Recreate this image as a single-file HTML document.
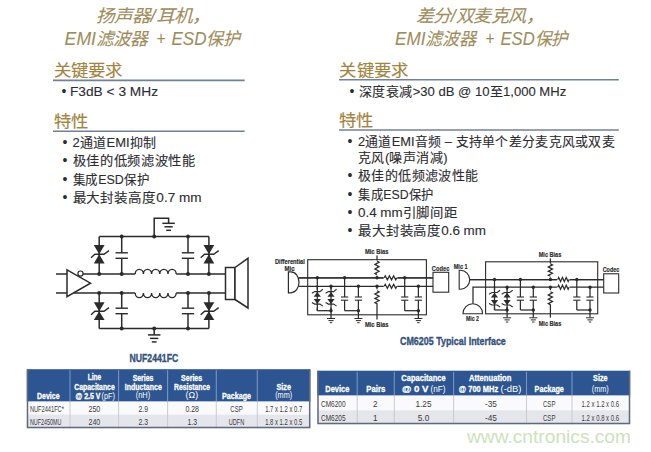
<!DOCTYPE html>
<html lang="zh-CN"><head><meta charset="utf-8"><style>
html,body{margin:0;padding:0;background:#fff;width:651px;height:452px;overflow:hidden;}
svg{position:absolute;left:0;top:0;}
</style></head><body>
<svg width="651" height="452" viewBox="0 0 651 452">
<rect width="651" height="452" fill="#fff"/>
<line x1="99.2" y1="236.4" x2="208.9" y2="236.4" stroke="#2b2b2b" stroke-width="1.5"/>
<line x1="99.2" y1="328.4" x2="208.9" y2="328.4" stroke="#2b2b2b" stroke-width="1.5"/>
<polyline points="154.2,236.4 154.2,218.3 168.6,218.3 168.6,223.3" fill="none" stroke="#2b2b2b" stroke-width="1.5" stroke-linejoin="miter"/>
<line x1="162.35" y1="223.3" x2="174.85" y2="223.3" stroke="#2b2b2b" stroke-width="1.5"/>
<line x1="164.475" y1="226.8" x2="172.725" y2="226.8" stroke="#2b2b2b" stroke-width="1.5"/>
<line x1="166.225" y1="230.3" x2="170.975" y2="230.3" stroke="#2b2b2b" stroke-width="1.5"/>
<line x1="154.2" y1="328.4" x2="154.2" y2="334.9" stroke="#2b2b2b" stroke-width="1.5"/>
<line x1="147.95" y1="334.9" x2="160.45" y2="334.9" stroke="#2b2b2b" stroke-width="1.5"/>
<line x1="150.075" y1="338.4" x2="158.325" y2="338.4" stroke="#2b2b2b" stroke-width="1.5"/>
<line x1="151.825" y1="341.9" x2="156.575" y2="341.9" stroke="#2b2b2b" stroke-width="1.5"/>
<line x1="99.2" y1="236.4" x2="99.2" y2="274" stroke="#2b2b2b" stroke-width="1.5"/>
<line x1="99.2" y1="293" x2="99.2" y2="328.4" stroke="#2b2b2b" stroke-width="1.5"/>
<line x1="208.9" y1="236.4" x2="208.9" y2="274" stroke="#2b2b2b" stroke-width="1.5"/>
<line x1="208.9" y1="293" x2="208.9" y2="328.4" stroke="#2b2b2b" stroke-width="1.5"/>
<line x1="121.7" y1="236.4" x2="121.7" y2="252.8" stroke="#2b2b2b" stroke-width="1.5"/>
<line x1="121.7" y1="258.3" x2="121.7" y2="274" stroke="#2b2b2b" stroke-width="1.5"/>
<line x1="121.7" y1="293" x2="121.7" y2="308.2" stroke="#2b2b2b" stroke-width="1.5"/>
<line x1="121.7" y1="313.7" x2="121.7" y2="328.4" stroke="#2b2b2b" stroke-width="1.5"/>
<line x1="115.5" y1="252.8" x2="127.9" y2="252.8" stroke="#2b2b2b" stroke-width="1.4"/>
<line x1="115.5" y1="258.3" x2="127.9" y2="258.3" stroke="#2b2b2b" stroke-width="1.4"/>
<line x1="115.5" y1="308.2" x2="127.9" y2="308.2" stroke="#2b2b2b" stroke-width="1.4"/>
<line x1="115.5" y1="313.7" x2="127.9" y2="313.7" stroke="#2b2b2b" stroke-width="1.4"/>
<line x1="188" y1="236.4" x2="188" y2="252.8" stroke="#2b2b2b" stroke-width="1.5"/>
<line x1="188" y1="258.3" x2="188" y2="274" stroke="#2b2b2b" stroke-width="1.5"/>
<line x1="188" y1="293" x2="188" y2="308.2" stroke="#2b2b2b" stroke-width="1.5"/>
<line x1="188" y1="313.7" x2="188" y2="328.4" stroke="#2b2b2b" stroke-width="1.5"/>
<line x1="181.8" y1="252.8" x2="194.2" y2="252.8" stroke="#2b2b2b" stroke-width="1.4"/>
<line x1="181.8" y1="258.3" x2="194.2" y2="258.3" stroke="#2b2b2b" stroke-width="1.4"/>
<line x1="181.8" y1="308.2" x2="194.2" y2="308.2" stroke="#2b2b2b" stroke-width="1.4"/>
<line x1="181.8" y1="313.7" x2="194.2" y2="313.7" stroke="#2b2b2b" stroke-width="1.4"/>
<polygon points="93.8,245 104.60000000000001,245 99.2,254.2" fill="#2b2b2b" stroke="none" stroke-width="1.5"/>
<polygon points="93.8,263.5 104.60000000000001,263.5 99.2,254.2" fill="#2b2b2b" stroke="none" stroke-width="1.5"/>
<polyline points="91.0,257.8 94.9,254.2 104.0,254.2 109.0,250.6" fill="none" stroke="#2b2b2b" stroke-width="1.4" stroke-linejoin="miter"/>
<polygon points="203.5,245 214.3,245 208.9,254.2" fill="#2b2b2b" stroke="none" stroke-width="1.5"/>
<polygon points="203.5,263.5 214.3,263.5 208.9,254.2" fill="#2b2b2b" stroke="none" stroke-width="1.5"/>
<polyline points="200.70000000000002,257.8 204.6,254.2 213.70000000000002,254.2 218.70000000000002,250.6" fill="none" stroke="#2b2b2b" stroke-width="1.4" stroke-linejoin="miter"/>
<polygon points="93.8,302.3 104.60000000000001,302.3 99.2,311.2" fill="#2b2b2b" stroke="none" stroke-width="1.5"/>
<polygon points="93.8,320 104.60000000000001,320 99.2,311.2" fill="#2b2b2b" stroke="none" stroke-width="1.5"/>
<polyline points="91.0,314.8 94.9,311.2 104.0,311.2 109.0,307.59999999999997" fill="none" stroke="#2b2b2b" stroke-width="1.4" stroke-linejoin="miter"/>
<polygon points="203.5,302.3 214.3,302.3 208.9,311.2" fill="#2b2b2b" stroke="none" stroke-width="1.5"/>
<polygon points="203.5,320 214.3,320 208.9,311.2" fill="#2b2b2b" stroke="none" stroke-width="1.5"/>
<polyline points="200.70000000000002,314.8 204.6,311.2 213.70000000000002,311.2 218.70000000000002,307.59999999999997" fill="none" stroke="#2b2b2b" stroke-width="1.4" stroke-linejoin="miter"/>
<line x1="56" y1="274" x2="67" y2="274" stroke="#2b2b2b" stroke-width="1.5"/>
<line x1="56" y1="293" x2="67" y2="293" stroke="#2b2b2b" stroke-width="1.5"/>
<polygon points="67,269.8 90.5,283.2 67,296.6" fill="none" stroke="#2b2b2b" stroke-width="1.5"/>
<circle cx="80.5" cy="273.6" r="2.6" fill="white" stroke="#2b2b2b" stroke-width="1.2"/>
<line x1="82.8" y1="274" x2="135.2" y2="274" stroke="#2b2b2b" stroke-width="1.5"/>
<line x1="176.2" y1="274" x2="225.5" y2="274" stroke="#2b2b2b" stroke-width="1.5"/>
<line x1="74" y1="293" x2="135.2" y2="293" stroke="#2b2b2b" stroke-width="1.5"/>
<line x1="176.2" y1="293" x2="225.5" y2="293" stroke="#2b2b2b" stroke-width="1.5"/>
<path d="M135.2,274 a4.1,4.6 0 0 1 8.2,0 a4.1,4.6 0 0 1 8.2,0 a4.1,4.6 0 0 1 8.2,0 a4.1,4.6 0 0 1 8.2,0 a4.1,4.6 0 0 1 8.2,0" fill="none" stroke="#2b2b2b" stroke-width="1.4"/>
<path d="M135.2,293 a4.1,4.6 0 0 0 8.2,0 a4.1,4.6 0 0 0 8.2,0 a4.1,4.6 0 0 0 8.2,0 a4.1,4.6 0 0 0 8.2,0 a4.1,4.6 0 0 0 8.2,0" fill="none" stroke="#2b2b2b" stroke-width="1.4"/>
<rect x="225.5" y="267.5" width="9.5" height="32" fill="white" stroke="#2b2b2b" stroke-width="1.5"/>
<polygon points="235,267.5 248,258.3 248,308 235,299.5" fill="white" stroke="#2b2b2b" stroke-width="1.5"/>
<circle cx="121.7" cy="236.4" r="2.0" fill="#2b2b2b"/>
<circle cx="154.2" cy="236.4" r="2.0" fill="#2b2b2b"/>
<circle cx="188" cy="236.4" r="2.0" fill="#2b2b2b"/>
<circle cx="99.2" cy="274" r="2.0" fill="#2b2b2b"/>
<circle cx="121.7" cy="274" r="2.0" fill="#2b2b2b"/>
<circle cx="188" cy="274" r="2.0" fill="#2b2b2b"/>
<circle cx="208.9" cy="274" r="2.0" fill="#2b2b2b"/>
<circle cx="99.2" cy="293" r="2.0" fill="#2b2b2b"/>
<circle cx="121.7" cy="293" r="2.0" fill="#2b2b2b"/>
<circle cx="188" cy="293" r="2.0" fill="#2b2b2b"/>
<circle cx="208.9" cy="293" r="2.0" fill="#2b2b2b"/>
<circle cx="121.7" cy="328.4" r="2.0" fill="#2b2b2b"/>
<circle cx="154.2" cy="328.4" r="2.0" fill="#2b2b2b"/>
<circle cx="188" cy="328.4" r="2.0" fill="#2b2b2b"/>
<line x1="298.7" y1="277.8" x2="433" y2="277.8" stroke="#2b2b2b" stroke-width="1.25"/>
<line x1="298.7" y1="286.3" x2="433" y2="286.3" stroke="#2b2b2b" stroke-width="1.25"/>
<rect x="307.7" y="259.7" width="118.69999999999999" height="55.10000000000002" fill="none" stroke="#2b2b2b" stroke-width="1.1"/>
<line x1="298.7" y1="277.8" x2="433" y2="277.8" stroke="#2b2b2b" stroke-width="1.25"/>
<rect x="383.7" y="274.8" width="13.600000000000023" height="6" fill="white"/>
<rect x="383.7" y="283.3" width="13.600000000000023" height="6" fill="white"/>
<polyline points="384.2,277.8 385.25,275.8 387.35,279.8 389.45,275.8 391.55,279.8 393.65,275.8 395.75,279.8 396.8,277.8" fill="none" stroke="#2b2b2b" stroke-width="1.25" stroke-linejoin="miter"/>
<polyline points="384.2,286.3 385.25,284.3 387.35,288.3 389.45,284.3 391.55,288.3 393.65,284.3 395.75,288.3 396.8,286.3" fill="none" stroke="#2b2b2b" stroke-width="1.25" stroke-linejoin="miter"/>
<line x1="317.3" y1="277.8" x2="317.3" y2="310.7" stroke="#2b2b2b" stroke-width="1.25"/>
<line x1="331" y1="286.3" x2="331" y2="310.7" stroke="#2b2b2b" stroke-width="1.25"/>
<rect x="312.3" y="289.3" width="23.69999999999999" height="18.399999999999977" fill="white"/>
<line x1="317.3" y1="285.3" x2="317.3" y2="310.7" stroke="#2b2b2b" stroke-width="1.25"/>
<line x1="331" y1="286.3" x2="331" y2="310.7" stroke="#2b2b2b" stroke-width="1.25"/>
<polygon points="317.3,291.90000000000003 313.7,296.7 320.90000000000003,296.7" fill="#2b2b2b" stroke="none" stroke-width="1.5"/>
<polygon points="313.7,299.1 320.90000000000003,299.1 317.3,304.1" fill="#2b2b2b" stroke="none" stroke-width="1.5"/>
<polyline points="311.90000000000003,293.3 314.7,291.6 319.90000000000003,291.6 322.90000000000003,289.3" fill="none" stroke="#2b2b2b" stroke-width="1.1" stroke-linejoin="miter"/>
<polyline points="311.90000000000003,302.5 314.7,304.1 319.90000000000003,304.1 322.90000000000003,306.1" fill="none" stroke="#2b2b2b" stroke-width="1.1" stroke-linejoin="miter"/>
<polygon points="331,291.90000000000003 327.4,296.7 334.6,296.7" fill="#2b2b2b" stroke="none" stroke-width="1.5"/>
<polygon points="327.4,299.1 334.6,299.1 331,304.1" fill="#2b2b2b" stroke="none" stroke-width="1.5"/>
<polyline points="325.6,293.3 328.4,291.6 333.6,291.6 336.6,289.3" fill="none" stroke="#2b2b2b" stroke-width="1.1" stroke-linejoin="miter"/>
<polyline points="325.6,302.5 328.4,304.1 333.6,304.1 336.6,306.1" fill="none" stroke="#2b2b2b" stroke-width="1.1" stroke-linejoin="miter"/>
<line x1="317.3" y1="310.7" x2="331" y2="310.7" stroke="#2b2b2b" stroke-width="1.25"/>
<line x1="331" y1="310.7" x2="331" y2="318.2" stroke="#2b2b2b" stroke-width="1.25"/>
<line x1="327.0" y1="318.5" x2="335.0" y2="318.5" stroke="#2b2b2b" stroke-width="1.0"/>
<line x1="328.44" y1="320.6" x2="333.56" y2="320.6" stroke="#2b2b2b" stroke-width="1.0"/>
<line x1="329.8" y1="322.7" x2="332.2" y2="322.7" stroke="#2b2b2b" stroke-width="1.0"/>
<circle cx="317.3" cy="277.8" r="1.7" fill="#2b2b2b"/>
<circle cx="331" cy="286.3" r="1.7" fill="#2b2b2b"/>
<circle cx="331" cy="310.7" r="1.7" fill="#2b2b2b"/>
<line x1="344.6" y1="277.8" x2="344.6" y2="297.0" stroke="#2b2b2b" stroke-width="1.25"/>
<line x1="344.6" y1="300.2" x2="344.6" y2="310.7" stroke="#2b2b2b" stroke-width="1.25"/>
<line x1="358.4" y1="286.3" x2="358.4" y2="297.0" stroke="#2b2b2b" stroke-width="1.25"/>
<line x1="358.4" y1="300.2" x2="358.4" y2="310.7" stroke="#2b2b2b" stroke-width="1.25"/>
<line x1="341.0" y1="297.0" x2="348.20000000000005" y2="297.0" stroke="#2b2b2b" stroke-width="1.1"/>
<line x1="341.0" y1="300.2" x2="348.20000000000005" y2="300.2" stroke="#2b2b2b" stroke-width="1.1"/>
<line x1="354.79999999999995" y1="297.0" x2="362.0" y2="297.0" stroke="#2b2b2b" stroke-width="1.1"/>
<line x1="354.79999999999995" y1="300.2" x2="362.0" y2="300.2" stroke="#2b2b2b" stroke-width="1.1"/>
<line x1="344.6" y1="310.7" x2="358.4" y2="310.7" stroke="#2b2b2b" stroke-width="1.25"/>
<line x1="358.4" y1="310.7" x2="358.4" y2="318.2" stroke="#2b2b2b" stroke-width="1.25"/>
<line x1="354.4" y1="318.5" x2="362.4" y2="318.5" stroke="#2b2b2b" stroke-width="1.0"/>
<line x1="355.84" y1="320.6" x2="360.96" y2="320.6" stroke="#2b2b2b" stroke-width="1.0"/>
<line x1="357.2" y1="322.7" x2="359.59999999999997" y2="322.7" stroke="#2b2b2b" stroke-width="1.0"/>
<circle cx="344.6" cy="277.8" r="1.7" fill="#2b2b2b"/>
<circle cx="358.4" cy="286.3" r="1.7" fill="#2b2b2b"/>
<circle cx="358.4" cy="310.7" r="1.7" fill="#2b2b2b"/>
<line x1="404.7" y1="277.8" x2="404.7" y2="297.0" stroke="#2b2b2b" stroke-width="1.25"/>
<line x1="404.7" y1="300.2" x2="404.7" y2="310.7" stroke="#2b2b2b" stroke-width="1.25"/>
<line x1="418.4" y1="286.3" x2="418.4" y2="297.0" stroke="#2b2b2b" stroke-width="1.25"/>
<line x1="418.4" y1="300.2" x2="418.4" y2="310.7" stroke="#2b2b2b" stroke-width="1.25"/>
<line x1="401.09999999999997" y1="297.0" x2="408.3" y2="297.0" stroke="#2b2b2b" stroke-width="1.1"/>
<line x1="401.09999999999997" y1="300.2" x2="408.3" y2="300.2" stroke="#2b2b2b" stroke-width="1.1"/>
<line x1="414.79999999999995" y1="297.0" x2="422.0" y2="297.0" stroke="#2b2b2b" stroke-width="1.1"/>
<line x1="414.79999999999995" y1="300.2" x2="422.0" y2="300.2" stroke="#2b2b2b" stroke-width="1.1"/>
<line x1="404.7" y1="310.7" x2="418.4" y2="310.7" stroke="#2b2b2b" stroke-width="1.25"/>
<line x1="418.4" y1="310.7" x2="418.4" y2="318.2" stroke="#2b2b2b" stroke-width="1.25"/>
<line x1="414.4" y1="318.5" x2="422.4" y2="318.5" stroke="#2b2b2b" stroke-width="1.0"/>
<line x1="415.84" y1="320.6" x2="420.96" y2="320.6" stroke="#2b2b2b" stroke-width="1.0"/>
<line x1="417.2" y1="322.7" x2="419.59999999999997" y2="322.7" stroke="#2b2b2b" stroke-width="1.0"/>
<circle cx="404.7" cy="277.8" r="1.7" fill="#2b2b2b"/>
<circle cx="418.4" cy="286.3" r="1.7" fill="#2b2b2b"/>
<circle cx="418.4" cy="310.7" r="1.7" fill="#2b2b2b"/>
<line x1="377" y1="255.5" x2="377" y2="277.8" stroke="#2b2b2b" stroke-width="1.25"/>
<line x1="377" y1="286.3" x2="377" y2="319.5" stroke="#2b2b2b" stroke-width="1.25"/>
<rect x="373.5" y="260.5" width="7" height="15.300000000000011" fill="white"/>
<rect x="373.5" y="289.3" width="7" height="14" fill="white"/>
<polyline points="377,261.0 379.1,262.1333333333333 374.9,264.4 379.1,266.6666666666667 374.9,268.93333333333334 379.1,271.20000000000005 374.9,273.4666666666667 377,274.6" fill="none" stroke="#2b2b2b" stroke-width="1.25" stroke-linejoin="miter"/>
<polyline points="377,290.8 379.1,291.8833333333333 374.9,294.05 379.1,296.2166666666667 374.9,298.3833333333333 379.1,300.55 374.9,302.7166666666667 377,303.8" fill="none" stroke="#2b2b2b" stroke-width="1.25" stroke-linejoin="miter"/>
<circle cx="377" cy="277.8" r="1.7" fill="#2b2b2b"/>
<circle cx="377" cy="286.3" r="1.7" fill="#2b2b2b"/>
<rect x="433" y="272.3" width="15.699999999999989" height="19.899999999999977" fill="white" stroke="#2b2b2b" stroke-width="1.1"/>
<path d="M288.4,271.9 L291,271.9 A8,10.45 0 0 1 291,292.8 L288.4,292.8 Z" fill="white" stroke="#2b2b2b" stroke-width="1.2"/>
<line x1="469.7" y1="279.5" x2="603.7" y2="279.5" stroke="#2b2b2b" stroke-width="1.25"/>
<polyline points="473,303.8 473,287.2 603.7,287.2" fill="none" stroke="#2b2b2b" stroke-width="1.25" stroke-linejoin="miter"/>
<rect x="485.6" y="261.8" width="112.10000000000002" height="52.0" fill="none" stroke="#2b2b2b" stroke-width="1.1"/>
<line x1="469.7" y1="279.5" x2="603.7" y2="279.5" stroke="#2b2b2b" stroke-width="1.25"/>
<rect x="557.2" y="276.5" width="12.399999999999977" height="6" fill="white"/>
<rect x="557.2" y="284.2" width="12.399999999999977" height="6" fill="white"/>
<polyline points="557.7,279.5 558.6500000000001,277.5 560.5500000000001,281.5 562.45,277.5 564.35,281.5 566.25,277.5 568.15,281.5 569.1,279.5" fill="none" stroke="#2b2b2b" stroke-width="1.25" stroke-linejoin="miter"/>
<polyline points="557.7,287.2 558.6500000000001,285.2 560.5500000000001,289.2 562.45,285.2 564.35,289.2 566.25,285.2 568.15,289.2 569.1,287.2" fill="none" stroke="#2b2b2b" stroke-width="1.25" stroke-linejoin="miter"/>
<line x1="494.5" y1="279.5" x2="494.5" y2="310" stroke="#2b2b2b" stroke-width="1.25"/>
<line x1="507.1" y1="287.2" x2="507.1" y2="310" stroke="#2b2b2b" stroke-width="1.25"/>
<rect x="489.5" y="290.2" width="22.600000000000023" height="16.80000000000001" fill="white"/>
<line x1="494.5" y1="286.2" x2="494.5" y2="310" stroke="#2b2b2b" stroke-width="1.25"/>
<line x1="507.1" y1="287.2" x2="507.1" y2="310" stroke="#2b2b2b" stroke-width="1.25"/>
<polygon points="494.5,292.8 490.9,297.59999999999997 498.1,297.59999999999997" fill="#2b2b2b" stroke="none" stroke-width="1.5"/>
<polygon points="490.9,300.0 498.1,300.0 494.5,305.0" fill="#2b2b2b" stroke="none" stroke-width="1.5"/>
<polyline points="489.1,294.2 491.9,292.5 497.1,292.5 500.1,290.2" fill="none" stroke="#2b2b2b" stroke-width="1.1" stroke-linejoin="miter"/>
<polyline points="489.1,303.4 491.9,305.0 497.1,305.0 500.1,307.0" fill="none" stroke="#2b2b2b" stroke-width="1.1" stroke-linejoin="miter"/>
<polygon points="507.1,292.8 503.5,297.59999999999997 510.70000000000005,297.59999999999997" fill="#2b2b2b" stroke="none" stroke-width="1.5"/>
<polygon points="503.5,300.0 510.70000000000005,300.0 507.1,305.0" fill="#2b2b2b" stroke="none" stroke-width="1.5"/>
<polyline points="501.70000000000005,294.2 504.5,292.5 509.70000000000005,292.5 512.7,290.2" fill="none" stroke="#2b2b2b" stroke-width="1.1" stroke-linejoin="miter"/>
<polyline points="501.70000000000005,303.4 504.5,305.0 509.70000000000005,305.0 512.7,307.0" fill="none" stroke="#2b2b2b" stroke-width="1.1" stroke-linejoin="miter"/>
<line x1="494.5" y1="310" x2="507.1" y2="310" stroke="#2b2b2b" stroke-width="1.25"/>
<line x1="507.1" y1="310" x2="507.1" y2="317.5" stroke="#2b2b2b" stroke-width="1.25"/>
<line x1="503.1" y1="317.8" x2="511.1" y2="317.8" stroke="#2b2b2b" stroke-width="1.0"/>
<line x1="504.54" y1="319.90000000000003" x2="509.66" y2="319.90000000000003" stroke="#2b2b2b" stroke-width="1.0"/>
<line x1="505.90000000000003" y1="322.0" x2="508.3" y2="322.0" stroke="#2b2b2b" stroke-width="1.0"/>
<circle cx="494.5" cy="279.5" r="1.7" fill="#2b2b2b"/>
<circle cx="507.1" cy="287.2" r="1.7" fill="#2b2b2b"/>
<circle cx="507.1" cy="310" r="1.7" fill="#2b2b2b"/>
<line x1="520.4" y1="279.5" x2="520.4" y2="297.0" stroke="#2b2b2b" stroke-width="1.25"/>
<line x1="520.4" y1="300.2" x2="520.4" y2="310" stroke="#2b2b2b" stroke-width="1.25"/>
<line x1="533.3" y1="287.2" x2="533.3" y2="297.0" stroke="#2b2b2b" stroke-width="1.25"/>
<line x1="533.3" y1="300.2" x2="533.3" y2="310" stroke="#2b2b2b" stroke-width="1.25"/>
<line x1="516.8" y1="297.0" x2="524.0" y2="297.0" stroke="#2b2b2b" stroke-width="1.1"/>
<line x1="516.8" y1="300.2" x2="524.0" y2="300.2" stroke="#2b2b2b" stroke-width="1.1"/>
<line x1="529.6999999999999" y1="297.0" x2="536.9" y2="297.0" stroke="#2b2b2b" stroke-width="1.1"/>
<line x1="529.6999999999999" y1="300.2" x2="536.9" y2="300.2" stroke="#2b2b2b" stroke-width="1.1"/>
<line x1="520.4" y1="310" x2="533.3" y2="310" stroke="#2b2b2b" stroke-width="1.25"/>
<line x1="533.3" y1="310" x2="533.3" y2="317.5" stroke="#2b2b2b" stroke-width="1.25"/>
<line x1="529.3" y1="317.8" x2="537.3" y2="317.8" stroke="#2b2b2b" stroke-width="1.0"/>
<line x1="530.74" y1="319.90000000000003" x2="535.8599999999999" y2="319.90000000000003" stroke="#2b2b2b" stroke-width="1.0"/>
<line x1="532.0999999999999" y1="322.0" x2="534.5" y2="322.0" stroke="#2b2b2b" stroke-width="1.0"/>
<circle cx="520.4" cy="279.5" r="1.7" fill="#2b2b2b"/>
<circle cx="533.3" cy="287.2" r="1.7" fill="#2b2b2b"/>
<circle cx="533.3" cy="310" r="1.7" fill="#2b2b2b"/>
<line x1="576.8" y1="279.5" x2="576.8" y2="297.0" stroke="#2b2b2b" stroke-width="1.25"/>
<line x1="576.8" y1="300.2" x2="576.8" y2="310" stroke="#2b2b2b" stroke-width="1.25"/>
<line x1="590" y1="287.2" x2="590" y2="297.0" stroke="#2b2b2b" stroke-width="1.25"/>
<line x1="590" y1="300.2" x2="590" y2="310" stroke="#2b2b2b" stroke-width="1.25"/>
<line x1="573.1999999999999" y1="297.0" x2="580.4" y2="297.0" stroke="#2b2b2b" stroke-width="1.1"/>
<line x1="573.1999999999999" y1="300.2" x2="580.4" y2="300.2" stroke="#2b2b2b" stroke-width="1.1"/>
<line x1="586.4" y1="297.0" x2="593.6" y2="297.0" stroke="#2b2b2b" stroke-width="1.1"/>
<line x1="586.4" y1="300.2" x2="593.6" y2="300.2" stroke="#2b2b2b" stroke-width="1.1"/>
<line x1="576.8" y1="310" x2="590" y2="310" stroke="#2b2b2b" stroke-width="1.25"/>
<line x1="590" y1="310" x2="590" y2="317.5" stroke="#2b2b2b" stroke-width="1.25"/>
<line x1="586.0" y1="317.8" x2="594.0" y2="317.8" stroke="#2b2b2b" stroke-width="1.0"/>
<line x1="587.44" y1="319.90000000000003" x2="592.56" y2="319.90000000000003" stroke="#2b2b2b" stroke-width="1.0"/>
<line x1="588.8" y1="322.0" x2="591.2" y2="322.0" stroke="#2b2b2b" stroke-width="1.0"/>
<circle cx="576.8" cy="279.5" r="1.7" fill="#2b2b2b"/>
<circle cx="590" cy="287.2" r="1.7" fill="#2b2b2b"/>
<circle cx="590" cy="310" r="1.7" fill="#2b2b2b"/>
<line x1="550.4" y1="258.4" x2="550.4" y2="279.5" stroke="#2b2b2b" stroke-width="1.25"/>
<line x1="550.4" y1="287.2" x2="550.4" y2="317.6" stroke="#2b2b2b" stroke-width="1.25"/>
<rect x="546.9" y="263.4" width="7" height="14.100000000000023" fill="white"/>
<rect x="546.9" y="290.2" width="7" height="14" fill="white"/>
<polyline points="550.4,263.9 552.5,264.93333333333334 548.3,267.0 552.5,269.06666666666666 548.3,271.1333333333333 552.5,273.2 548.3,275.26666666666665 550.4,276.3" fill="none" stroke="#2b2b2b" stroke-width="1.25" stroke-linejoin="miter"/>
<polyline points="550.4,291.7 552.5,292.7833333333333 548.3,294.95 552.5,297.1166666666667 548.3,299.2833333333333 552.5,301.45 548.3,303.6166666666667 550.4,304.7" fill="none" stroke="#2b2b2b" stroke-width="1.25" stroke-linejoin="miter"/>
<circle cx="550.4" cy="279.5" r="1.7" fill="#2b2b2b"/>
<circle cx="550.4" cy="287.2" r="1.7" fill="#2b2b2b"/>
<rect x="603.7" y="273.8" width="15.0" height="19.19999999999999" fill="white" stroke="#2b2b2b" stroke-width="1.1"/>
<path d="M459.2,270.3 L460.5,270.3 A9.2,9.45 0 0 1 460.5,289.2 L459.2,289.2 Z" fill="white" stroke="#2b2b2b" stroke-width="1.1"/>
<path d="M463,313.8 A9.8,10 0 0 1 482.6,313.8 Z" fill="white" stroke="#2b2b2b" stroke-width="1.1"/>
<text x="289.9" y="264" font-family="Liberation Sans" font-size="6.5" fill="#2a2a2a" font-weight="bold" font-style="normal" text-anchor="middle" textLength="30" lengthAdjust="spacingAndGlyphs" stroke="#2a2a2a" stroke-width="0.15">Differential</text>
<text x="289.5" y="270.5" font-family="Liberation Sans" font-size="6.5" fill="#2a2a2a" font-weight="bold" font-style="normal" text-anchor="middle" textLength="10" lengthAdjust="spacingAndGlyphs" stroke="#2a2a2a" stroke-width="0.15">Mic</text>
<text x="376.7" y="254" font-family="Liberation Sans" font-size="6.5" fill="#2a2a2a" font-weight="bold" font-style="normal" text-anchor="middle" textLength="23.5" lengthAdjust="spacingAndGlyphs" stroke="#2a2a2a" stroke-width="0.15">Mic Bias</text>
<text x="376.7" y="327" font-family="Liberation Sans" font-size="6.5" fill="#2a2a2a" font-weight="bold" font-style="normal" text-anchor="middle" textLength="23.5" lengthAdjust="spacingAndGlyphs" stroke="#2a2a2a" stroke-width="0.15">Mic Bias</text>
<text x="440.6" y="270.5" font-family="Liberation Sans" font-size="6.5" fill="#2a2a2a" font-weight="bold" font-style="normal" text-anchor="middle" textLength="17.5" lengthAdjust="spacingAndGlyphs" stroke="#2a2a2a" stroke-width="0.15">Codec</text>
<text x="460.7" y="268.5" font-family="Liberation Sans" font-size="6.5" fill="#2a2a2a" font-weight="bold" font-style="normal" text-anchor="middle" textLength="14" lengthAdjust="spacingAndGlyphs" stroke="#2a2a2a" stroke-width="0.15">Mic 1</text>
<text x="472.5" y="321" font-family="Liberation Sans" font-size="6.5" fill="#2a2a2a" font-weight="bold" font-style="normal" text-anchor="middle" textLength="13" lengthAdjust="spacingAndGlyphs" stroke="#2a2a2a" stroke-width="0.15">Mic 2</text>
<text x="550" y="257" font-family="Liberation Sans" font-size="6.5" fill="#2a2a2a" font-weight="bold" font-style="normal" text-anchor="middle" textLength="22.6" lengthAdjust="spacingAndGlyphs" stroke="#2a2a2a" stroke-width="0.15">Mic Bias</text>
<text x="550" y="325.5" font-family="Liberation Sans" font-size="6.5" fill="#2a2a2a" font-weight="bold" font-style="normal" text-anchor="middle" textLength="22.6" lengthAdjust="spacingAndGlyphs" stroke="#2a2a2a" stroke-width="0.15">Mic Bias</text>
<text x="611" y="271.8" font-family="Liberation Sans" font-size="6.5" fill="#2a2a2a" font-weight="bold" font-style="normal" text-anchor="middle" textLength="16.6" lengthAdjust="spacingAndGlyphs" stroke="#2a2a2a" stroke-width="0.15">Codec</text>
<text x="129.5" y="361.8" font-family="Liberation Sans" font-size="11" fill="#35517c" font-weight="bold" font-style="normal" text-anchor="start" textLength="48.8" lengthAdjust="spacingAndGlyphs" stroke="#35517c" stroke-width="0.35">NUF2441FC</text>
<text x="400" y="345" font-family="Liberation Sans" font-size="10.5" fill="#35517c" font-weight="bold" font-style="normal" text-anchor="start" textLength="105.8" lengthAdjust="spacingAndGlyphs" stroke="#35517c" stroke-width="0.35">CM6205 Typical Interface</text>
<text x="96" y="21.8" font-family="Liberation Sans" font-size="17.5" fill="#a08d5c" font-weight="normal" font-style="italic" text-anchor="start" textLength="114" lengthAdjust="spacingAndGlyphs" stroke="#a08d5c" stroke-width="0.1">扬声器/耳机，</text>
<text x="64.6" y="44.5" font-family="Liberation Sans" font-size="17.5" fill="#a08d5c" font-weight="normal" font-style="italic" text-anchor="start" textLength="83" lengthAdjust="spacingAndGlyphs" stroke="#a08d5c" stroke-width="0.1">EMI滤波器</text>
<text x="156.2" y="44.5" font-family="Liberation Sans" font-size="17.5" fill="#a08d5c" font-weight="normal" font-style="italic" text-anchor="start" textLength="9.2" lengthAdjust="spacingAndGlyphs" stroke="#a08d5c" stroke-width="0.1">+</text>
<text x="171.5" y="44.5" font-family="Liberation Sans" font-size="17.5" fill="#a08d5c" font-weight="normal" font-style="italic" text-anchor="start" textLength="68" lengthAdjust="spacingAndGlyphs" stroke="#a08d5c" stroke-width="0.1">ESD保护</text>
<text x="416" y="21.8" font-family="Liberation Sans" font-size="17.5" fill="#a08d5c" font-weight="normal" font-style="italic" text-anchor="start" textLength="127" lengthAdjust="spacingAndGlyphs" stroke="#a08d5c" stroke-width="0.1">差分/双麦克风，</text>
<text x="395" y="44.5" font-family="Liberation Sans" font-size="17.5" fill="#a08d5c" font-weight="normal" font-style="italic" text-anchor="start" textLength="80.5" lengthAdjust="spacingAndGlyphs" stroke="#a08d5c" stroke-width="0.1">EMI滤波器</text>
<text x="485.2" y="44.5" font-family="Liberation Sans" font-size="17.5" fill="#a08d5c" font-weight="normal" font-style="italic" text-anchor="start" textLength="9.2" lengthAdjust="spacingAndGlyphs" stroke="#a08d5c" stroke-width="0.1">+</text>
<text x="500.5" y="44.5" font-family="Liberation Sans" font-size="17.5" fill="#a08d5c" font-weight="normal" font-style="italic" text-anchor="start" textLength="66.5" lengthAdjust="spacingAndGlyphs" stroke="#a08d5c" stroke-width="0.1">ESD保护</text>
<text x="53.6" y="75.8" font-family="Liberation Sans" font-size="16.3" fill="#a3843f" font-weight="normal" font-style="normal" text-anchor="start" textLength="68.5" lengthAdjust="spacingAndGlyphs" stroke="#a3843f" stroke-width="0.15">关键要求</text>
<text x="53.6" y="126.8" font-family="Liberation Sans" font-size="16.3" fill="#a3843f" font-weight="normal" font-style="normal" text-anchor="start" textLength="34" lengthAdjust="spacingAndGlyphs" stroke="#a3843f" stroke-width="0.15">特性</text>
<text x="339.4" y="75.6" font-family="Liberation Sans" font-size="16.3" fill="#a3843f" font-weight="normal" font-style="normal" text-anchor="start" textLength="68.5" lengthAdjust="spacingAndGlyphs" stroke="#a3843f" stroke-width="0.15">关键要求</text>
<text x="339.4" y="125.8" font-family="Liberation Sans" font-size="16.3" fill="#a3843f" font-weight="normal" font-style="normal" text-anchor="start" textLength="34" lengthAdjust="spacingAndGlyphs" stroke="#a3843f" stroke-width="0.15">特性</text>
<line x1="53" y1="80.4" x2="244.7" y2="80.4" stroke="#6f8299" stroke-width="1.6"/>
<line x1="53" y1="131.3" x2="244.7" y2="131.3" stroke="#6f8299" stroke-width="1.6"/>
<line x1="339" y1="79.8" x2="618.8" y2="79.8" stroke="#6f8299" stroke-width="1.6"/>
<line x1="339" y1="130" x2="618.8" y2="130" stroke="#6f8299" stroke-width="1.6"/>
<text x="61.5" y="96" font-family="Liberation Sans" font-size="14" fill="#2c2c30" font-weight="normal" font-style="normal" text-anchor="start" >•</text>
<text x="70" y="96" font-family="Liberation Sans" font-size="12.6" fill="#2c2c30" font-weight="normal" font-style="normal" text-anchor="start" textLength="88" lengthAdjust="spacingAndGlyphs" stroke="#2c2c30" stroke-width="0.1">F3dB &lt; 3 MHz</text>
<text x="62.5" y="146.6" font-family="Liberation Sans" font-size="14" fill="#2c2c30" font-weight="normal" font-style="normal" text-anchor="start" >•</text>
<text x="72.5" y="146.6" font-family="Liberation Sans" font-size="12.6" fill="#2c2c30" font-weight="normal" font-style="normal" text-anchor="start" textLength="84" lengthAdjust="spacingAndGlyphs" stroke="#2c2c30" stroke-width="0.1">2通道EMI抑制</text>
<text x="62.5" y="165.1" font-family="Liberation Sans" font-size="14" fill="#2c2c30" font-weight="normal" font-style="normal" text-anchor="start" >•</text>
<text x="72.5" y="165.1" font-family="Liberation Sans" font-size="12.6" fill="#2c2c30" font-weight="normal" font-style="normal" text-anchor="start" textLength="123" lengthAdjust="spacingAndGlyphs" stroke="#2c2c30" stroke-width="0.1">极佳的低频滤波性能</text>
<text x="62.5" y="183.6" font-family="Liberation Sans" font-size="14" fill="#2c2c30" font-weight="normal" font-style="normal" text-anchor="start" >•</text>
<text x="72.5" y="183.6" font-family="Liberation Sans" font-size="12.6" fill="#2c2c30" font-weight="normal" font-style="normal" text-anchor="start" textLength="77" lengthAdjust="spacingAndGlyphs" stroke="#2c2c30" stroke-width="0.1">集成ESD保护</text>
<text x="62.5" y="202.1" font-family="Liberation Sans" font-size="14" fill="#2c2c30" font-weight="normal" font-style="normal" text-anchor="start" >•</text>
<text x="72.5" y="202.1" font-family="Liberation Sans" font-size="12.6" fill="#2c2c30" font-weight="normal" font-style="normal" text-anchor="start" textLength="129" lengthAdjust="spacingAndGlyphs" stroke="#2c2c30" stroke-width="0.1">最大封装高度0.7 mm</text>
<text x="349.5" y="95.5" font-family="Liberation Sans" font-size="14" fill="#2c2c30" font-weight="normal" font-style="normal" text-anchor="start" >•</text>
<text x="358.7" y="95.5" font-family="Liberation Sans" font-size="12.6" fill="#2c2c30" font-weight="normal" font-style="normal" text-anchor="start" textLength="207.5" lengthAdjust="spacingAndGlyphs" stroke="#2c2c30" stroke-width="0.1">深度衰减&gt;30 dB @ 10至1,000 MHz</text>
<text x="347.5" y="145.5" font-family="Liberation Sans" font-size="14" fill="#2c2c30" font-weight="normal" font-style="normal" text-anchor="start" >•</text>
<text x="358" y="145.5" font-family="Liberation Sans" font-size="12.6" fill="#2c2c30" font-weight="normal" font-style="normal" text-anchor="start" textLength="257" lengthAdjust="spacingAndGlyphs" stroke="#2c2c30" stroke-width="0.1">2通道EMI音频 – 支持单个差分麦克风或双麦</text>
<text x="358" y="161.5" font-family="Liberation Sans" font-size="12.6" fill="#2c2c30" font-weight="normal" font-style="normal" text-anchor="start" textLength="89.5" lengthAdjust="spacingAndGlyphs" stroke="#2c2c30" stroke-width="0.1">克风(噪声消减)</text>
<text x="347.5" y="180" font-family="Liberation Sans" font-size="14" fill="#2c2c30" font-weight="normal" font-style="normal" text-anchor="start" >•</text>
<text x="358" y="180" font-family="Liberation Sans" font-size="12.6" fill="#2c2c30" font-weight="normal" font-style="normal" text-anchor="start" textLength="120.5" lengthAdjust="spacingAndGlyphs" stroke="#2c2c30" stroke-width="0.1">极佳的低频滤波性能</text>
<text x="347.5" y="198.5" font-family="Liberation Sans" font-size="14" fill="#2c2c30" font-weight="normal" font-style="normal" text-anchor="start" >•</text>
<text x="358" y="198.5" font-family="Liberation Sans" font-size="12.6" fill="#2c2c30" font-weight="normal" font-style="normal" text-anchor="start" textLength="76" lengthAdjust="spacingAndGlyphs" stroke="#2c2c30" stroke-width="0.1">集成ESD保护</text>
<text x="347.5" y="216.7" font-family="Liberation Sans" font-size="14" fill="#2c2c30" font-weight="normal" font-style="normal" text-anchor="start" >•</text>
<text x="358" y="216.7" font-family="Liberation Sans" font-size="12.6" fill="#2c2c30" font-weight="normal" font-style="normal" text-anchor="start" textLength="100" lengthAdjust="spacingAndGlyphs" stroke="#2c2c30" stroke-width="0.1">0.4 mm引脚间距</text>
<text x="347.5" y="235.2" font-family="Liberation Sans" font-size="14" fill="#2c2c30" font-weight="normal" font-style="normal" text-anchor="start" >•</text>
<text x="358" y="235.2" font-family="Liberation Sans" font-size="12.6" fill="#2c2c30" font-weight="normal" font-style="normal" text-anchor="start" textLength="128" lengthAdjust="spacingAndGlyphs" stroke="#2c2c30" stroke-width="0.1">最大封装高度0.6 mm</text>
<rect x="26.8" y="369.2" width="283.59999999999997" height="32.400000000000034" fill="#2c5591"/>
<rect x="26.8" y="401.6" width="283.59999999999997" height="13.0" fill="#fafafc"/>
<rect x="26.8" y="414.6" width="283.59999999999997" height="13.699999999999989" fill="#e5e5ec"/>
<line x1="70" y1="370.2" x2="70" y2="401.6" stroke="#7896c0" stroke-width="1.1"/>
<line x1="70" y1="401.6" x2="70" y2="428.3" stroke="#c4c6d0" stroke-width="0.9"/>
<line x1="118.6" y1="370.2" x2="118.6" y2="401.6" stroke="#7896c0" stroke-width="1.1"/>
<line x1="118.6" y1="401.6" x2="118.6" y2="428.3" stroke="#c4c6d0" stroke-width="0.9"/>
<line x1="167.6" y1="370.2" x2="167.6" y2="401.6" stroke="#7896c0" stroke-width="1.1"/>
<line x1="167.6" y1="401.6" x2="167.6" y2="428.3" stroke="#c4c6d0" stroke-width="0.9"/>
<line x1="216.3" y1="370.2" x2="216.3" y2="401.6" stroke="#7896c0" stroke-width="1.1"/>
<line x1="216.3" y1="401.6" x2="216.3" y2="428.3" stroke="#c4c6d0" stroke-width="0.9"/>
<line x1="257.3" y1="370.2" x2="257.3" y2="401.6" stroke="#7896c0" stroke-width="1.1"/>
<line x1="257.3" y1="401.6" x2="257.3" y2="428.3" stroke="#c4c6d0" stroke-width="0.9"/>
<polyline points="27.5,369.2 27.5,427.6 309.7,427.6 309.7,369.2" fill="none" stroke="#5f6a80" stroke-width="1.5"/>
<text x="48.3" y="398.6" font-family="Liberation Sans" font-size="8.9" fill="#fff" font-weight="bold" font-style="normal" text-anchor="middle" textLength="22.5" lengthAdjust="spacingAndGlyphs" stroke="#fff" stroke-width="0.3">Device</text>
<text x="94.5" y="380.3" font-family="Liberation Sans" font-size="8.9" fill="#fff" font-weight="bold" font-style="normal" text-anchor="middle" textLength="13.5" lengthAdjust="spacingAndGlyphs" stroke="#fff" stroke-width="0.3">Line</text>
<text x="94.5" y="389.6" font-family="Liberation Sans" font-size="8.9" fill="#fff" font-weight="bold" font-style="normal" text-anchor="middle" textLength="40.5" lengthAdjust="spacingAndGlyphs" stroke="#fff" stroke-width="0.3">Capacitance</text>
<text x="75.5" y="398.6" font-family="Liberation Sans" font-size="8.9" fill="#fff" font-weight="bold" stroke="#fff" stroke-width="0.3" textLength="25" lengthAdjust="spacingAndGlyphs">@ 2.5 V</text>
<text x="101.5" y="398.6" font-family="Liberation Sans" font-size="8.9" fill="#fff" textLength="13.5" lengthAdjust="spacingAndGlyphs">(pF)</text>
<text x="143" y="380.5" font-family="Liberation Sans" font-size="8.9" fill="#fff" font-weight="bold" font-style="normal" text-anchor="middle" textLength="20.7" lengthAdjust="spacingAndGlyphs" stroke="#fff" stroke-width="0.3">Series</text>
<text x="143.3" y="389.7" font-family="Liberation Sans" font-size="8.9" fill="#fff" font-weight="bold" font-style="normal" text-anchor="middle" textLength="37" lengthAdjust="spacingAndGlyphs" stroke="#fff" stroke-width="0.3">Inductance</text>
<text x="143" y="398.4" font-family="Liberation Sans" font-size="8.9" fill="#fff" font-weight="normal" font-style="normal" text-anchor="middle" textLength="14.6" lengthAdjust="spacingAndGlyphs" >(nH)</text>
<text x="191.6" y="380.5" font-family="Liberation Sans" font-size="8.9" fill="#fff" font-weight="bold" font-style="normal" text-anchor="middle" textLength="21.2" lengthAdjust="spacingAndGlyphs" stroke="#fff" stroke-width="0.3">Series</text>
<text x="192.1" y="389.7" font-family="Liberation Sans" font-size="8.9" fill="#fff" font-weight="bold" font-style="normal" text-anchor="middle" textLength="36" lengthAdjust="spacingAndGlyphs" stroke="#fff" stroke-width="0.3">Resistance</text>
<text x="191.9" y="398.4" font-family="Liberation Sans" font-size="8.9" fill="#fff" font-weight="normal" font-style="normal" text-anchor="middle" textLength="12.6" lengthAdjust="spacingAndGlyphs" >(Ω)</text>
<text x="236.5" y="398.6" font-family="Liberation Sans" font-size="8.9" fill="#fff" font-weight="bold" font-style="normal" text-anchor="middle" textLength="29" lengthAdjust="spacingAndGlyphs" stroke="#fff" stroke-width="0.3">Package</text>
<text x="283.7" y="389.6" font-family="Liberation Sans" font-size="8.9" fill="#fff" font-weight="bold" font-style="normal" text-anchor="middle" textLength="14.5" lengthAdjust="spacingAndGlyphs" stroke="#fff" stroke-width="0.3">Size</text>
<text x="283.7" y="398.4" font-family="Liberation Sans" font-size="8.9" fill="#fff" font-weight="normal" font-style="normal" text-anchor="middle" textLength="17" lengthAdjust="spacingAndGlyphs" >(mm)</text>
<text x="29.9" y="411.7" font-family="Liberation Sans" font-size="8.6" fill="#3a3a3a" font-weight="normal" font-style="normal" text-anchor="start" textLength="34" lengthAdjust="spacingAndGlyphs" >NUF2441FC*</text>
<text x="29.9" y="424.6" font-family="Liberation Sans" font-size="8.6" fill="#3a3a3a" font-weight="normal" font-style="normal" text-anchor="start" textLength="31.5" lengthAdjust="spacingAndGlyphs" >NUF2450MU</text>
<text x="94.4" y="411.7" font-family="Liberation Sans" font-size="8.6" fill="#3a3a3a" font-weight="normal" font-style="normal" text-anchor="middle" textLength="11.8" lengthAdjust="spacingAndGlyphs" >250</text>
<text x="94.4" y="424.6" font-family="Liberation Sans" font-size="8.6" fill="#3a3a3a" font-weight="normal" font-style="normal" text-anchor="middle" textLength="11.8" lengthAdjust="spacingAndGlyphs" >240</text>
<text x="143.2" y="411.7" font-family="Liberation Sans" font-size="8.6" fill="#3a3a3a" font-weight="normal" font-style="normal" text-anchor="middle" textLength="9.5" lengthAdjust="spacingAndGlyphs" >2.9</text>
<text x="143.2" y="424.6" font-family="Liberation Sans" font-size="8.6" fill="#3a3a3a" font-weight="normal" font-style="normal" text-anchor="middle" textLength="9.5" lengthAdjust="spacingAndGlyphs" >2.3</text>
<text x="192.2" y="411.7" font-family="Liberation Sans" font-size="8.6" fill="#3a3a3a" font-weight="normal" font-style="normal" text-anchor="middle" textLength="13.5" lengthAdjust="spacingAndGlyphs" >0.28</text>
<text x="192.2" y="424.6" font-family="Liberation Sans" font-size="8.6" fill="#3a3a3a" font-weight="normal" font-style="normal" text-anchor="middle" textLength="9.5" lengthAdjust="spacingAndGlyphs" >1.3</text>
<text x="236.5" y="411.7" font-family="Liberation Sans" font-size="8.6" fill="#3a3a3a" font-weight="normal" font-style="normal" text-anchor="middle" textLength="12.5" lengthAdjust="spacingAndGlyphs" >CSP</text>
<text x="236.5" y="424.6" font-family="Liberation Sans" font-size="8.6" fill="#3a3a3a" font-weight="normal" font-style="normal" text-anchor="middle" textLength="15.5" lengthAdjust="spacingAndGlyphs" >UDFN</text>
<text x="283.7" y="411.7" font-family="Liberation Sans" font-size="8.6" fill="#3a3a3a" font-weight="normal" font-style="normal" text-anchor="middle" textLength="37" lengthAdjust="spacingAndGlyphs" >1.7 x 1.2 x 0.7</text>
<text x="283.7" y="424.6" font-family="Liberation Sans" font-size="8.6" fill="#3a3a3a" font-weight="normal" font-style="normal" text-anchor="middle" textLength="37" lengthAdjust="spacingAndGlyphs" >1.8 x 1.2 x 0.5</text>
<rect x="317.3" y="370.7" width="312.90000000000003" height="24.900000000000034" fill="#2c5591"/>
<rect x="317.3" y="395.6" width="312.90000000000003" height="14.699999999999989" fill="#fafafc"/>
<rect x="317.3" y="410.3" width="312.90000000000003" height="14.0" fill="#e5e5ec"/>
<line x1="357.2" y1="371.7" x2="357.2" y2="395.6" stroke="#7896c0" stroke-width="1.1"/>
<line x1="357.2" y1="395.6" x2="357.2" y2="424.3" stroke="#c4c6d0" stroke-width="0.9"/>
<line x1="394.3" y1="371.7" x2="394.3" y2="395.6" stroke="#7896c0" stroke-width="1.1"/>
<line x1="394.3" y1="395.6" x2="394.3" y2="424.3" stroke="#c4c6d0" stroke-width="0.9"/>
<line x1="453.6" y1="371.7" x2="453.6" y2="395.6" stroke="#7896c0" stroke-width="1.1"/>
<line x1="453.6" y1="395.6" x2="453.6" y2="424.3" stroke="#c4c6d0" stroke-width="0.9"/>
<line x1="526.5" y1="371.7" x2="526.5" y2="395.6" stroke="#7896c0" stroke-width="1.1"/>
<line x1="526.5" y1="395.6" x2="526.5" y2="424.3" stroke="#c4c6d0" stroke-width="0.9"/>
<line x1="572" y1="371.7" x2="572" y2="395.6" stroke="#7896c0" stroke-width="1.1"/>
<line x1="572" y1="395.6" x2="572" y2="424.3" stroke="#c4c6d0" stroke-width="0.9"/>
<polyline points="318.0,370.7 318.0,423.6 629.5,423.6 629.5,370.7" fill="none" stroke="#5f6a80" stroke-width="1.5"/>
<text x="337.3" y="392.2" font-family="Liberation Sans" font-size="8.9" fill="#fff" font-weight="bold" font-style="normal" text-anchor="middle" textLength="24" lengthAdjust="spacingAndGlyphs" stroke="#fff" stroke-width="0.3">Device</text>
<text x="375.8" y="392.2" font-family="Liberation Sans" font-size="8.9" fill="#fff" font-weight="bold" font-style="normal" text-anchor="middle" textLength="19" lengthAdjust="spacingAndGlyphs" stroke="#fff" stroke-width="0.3">Pairs</text>
<text x="423.5" y="381.3" font-family="Liberation Sans" font-size="8.9" fill="#fff" font-weight="bold" font-style="normal" text-anchor="middle" textLength="44.3" lengthAdjust="spacingAndGlyphs" stroke="#fff" stroke-width="0.3">Capacitance</text>
<text x="402" y="392.2" font-family="Liberation Sans" font-size="8.9" fill="#fff" font-weight="bold" stroke="#fff" stroke-width="0.3" textLength="26.5" lengthAdjust="spacingAndGlyphs">@ 0 V</text>
<text x="430.5" y="392.2" font-family="Liberation Sans" font-size="8.9" fill="#fff" textLength="15" lengthAdjust="spacingAndGlyphs">(nF)</text>
<text x="490.2" y="381.3" font-family="Liberation Sans" font-size="8.9" fill="#fff" font-weight="bold" font-style="normal" text-anchor="middle" textLength="42.3" lengthAdjust="spacingAndGlyphs" stroke="#fff" stroke-width="0.3">Attenuation</text>
<text x="458.8" y="392.2" font-family="Liberation Sans" font-size="8.9" fill="#fff" font-weight="bold" stroke="#fff" stroke-width="0.3" textLength="39.5" lengthAdjust="spacingAndGlyphs">@ 700 MHz</text>
<text x="500.5" y="392.2" font-family="Liberation Sans" font-size="8.9" fill="#fff" textLength="21" lengthAdjust="spacingAndGlyphs">(-dB)</text>
<text x="549.2" y="392.2" font-family="Liberation Sans" font-size="8.9" fill="#fff" font-weight="bold" font-style="normal" text-anchor="middle" textLength="29.2" lengthAdjust="spacingAndGlyphs" stroke="#fff" stroke-width="0.3">Package</text>
<text x="600.3" y="381.3" font-family="Liberation Sans" font-size="8.9" fill="#fff" font-weight="bold" font-style="normal" text-anchor="middle" textLength="14.5" lengthAdjust="spacingAndGlyphs" stroke="#fff" stroke-width="0.3">Size</text>
<text x="600.3" y="392.2" font-family="Liberation Sans" font-size="8.9" fill="#fff" font-weight="normal" font-style="normal" text-anchor="middle" textLength="17" lengthAdjust="spacingAndGlyphs" >(mm)</text>
<text x="321" y="407.4" font-family="Liberation Sans" font-size="8.6" fill="#3a3a3a" font-weight="normal" font-style="normal" text-anchor="start" textLength="24.6" lengthAdjust="spacingAndGlyphs" >CM6200</text>
<text x="321" y="421.1" font-family="Liberation Sans" font-size="8.6" fill="#3a3a3a" font-weight="normal" font-style="normal" text-anchor="start" textLength="24.6" lengthAdjust="spacingAndGlyphs" >CM6205</text>
<text x="375.3" y="407.4" font-family="Liberation Sans" font-size="8.6" fill="#3a3a3a" font-weight="normal" font-style="normal" text-anchor="middle" textLength="4.5" lengthAdjust="spacingAndGlyphs" >2</text>
<text x="375.3" y="421.1" font-family="Liberation Sans" font-size="8.6" fill="#3a3a3a" font-weight="normal" font-style="normal" text-anchor="middle" textLength="4.5" lengthAdjust="spacingAndGlyphs" >1</text>
<text x="423.5" y="407.4" font-family="Liberation Sans" font-size="8.6" fill="#3a3a3a" font-weight="normal" font-style="normal" text-anchor="middle" textLength="16" lengthAdjust="spacingAndGlyphs" >1.25</text>
<text x="423.5" y="421.1" font-family="Liberation Sans" font-size="8.6" fill="#3a3a3a" font-weight="normal" font-style="normal" text-anchor="middle" textLength="11.5" lengthAdjust="spacingAndGlyphs" >5.0</text>
<text x="490.9" y="407.4" font-family="Liberation Sans" font-size="8.6" fill="#3a3a3a" font-weight="normal" font-style="normal" text-anchor="middle" textLength="12" lengthAdjust="spacingAndGlyphs" >-35</text>
<text x="490.9" y="421.1" font-family="Liberation Sans" font-size="8.6" fill="#3a3a3a" font-weight="normal" font-style="normal" text-anchor="middle" textLength="12" lengthAdjust="spacingAndGlyphs" >-45</text>
<text x="549.2" y="407.4" font-family="Liberation Sans" font-size="8.6" fill="#3a3a3a" font-weight="normal" font-style="normal" text-anchor="middle" textLength="12.5" lengthAdjust="spacingAndGlyphs" >CSP</text>
<text x="549.2" y="421.1" font-family="Liberation Sans" font-size="8.6" fill="#3a3a3a" font-weight="normal" font-style="normal" text-anchor="middle" textLength="12.5" lengthAdjust="spacingAndGlyphs" >CSP</text>
<text x="600.3" y="407.4" font-family="Liberation Sans" font-size="8.6" fill="#3a3a3a" font-weight="normal" font-style="normal" text-anchor="middle" textLength="37.5" lengthAdjust="spacingAndGlyphs" >1.2 x 1.2 x 0.6</text>
<text x="600.3" y="421.1" font-family="Liberation Sans" font-size="8.6" fill="#3a3a3a" font-weight="normal" font-style="normal" text-anchor="middle" textLength="37.5" lengthAdjust="spacingAndGlyphs" >1.2 x 0.8 x 0.6</text>
<text x="631" y="443.2" font-family="Liberation Sans" font-size="17.8" fill="#cde2bb" text-anchor="end" textLength="164" lengthAdjust="spacingAndGlyphs">www.cntronics.com</text>
</svg>
</body></html>
